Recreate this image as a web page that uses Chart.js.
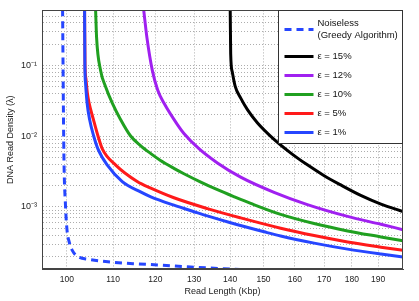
<!DOCTYPE html>
<html>
<head>
<meta charset="utf-8">
<script src="https://cdn.jsdelivr.net/npm/chart.js@4.4.0/dist/chart.umd.min.js"></script>
<style>
  html, body { margin: 0; padding: 0; background: #fff; }
  #wrap { width: 419px; height: 301px; }
</style>
</head>
<body>
<div id="wrap"><canvas id="chart" width="419" height="301"></canvas></div>
<script>
// read length (Kbp) / read density pairs
const noiselessLen = [99.12, 99.38, 99.73, 100.04, 100.41, 101.12, 102.44, 104.58, 109.4, 114.8, 120.5, 129.1, 138.2, 145.1];
const noiselessDens = [0.62, 5.96e-3, 9.97e-4, 4.63e-4, 3.34e-4, 2.44e-4, 1.97e-4, 1.82e-4, 1.67e-4, 1.58e-4, 1.52e-4, 1.42e-4, 1.34e-4, 1.29e-4];

const err15Len = [140.05, 140.19, 140.63, 141.50, 143.12, 145.11, 148.1, 153.3, 158.7, 164.2, 170.0, 175.9, 183.3, 191.1, 200];
const err15Dens = [0.62, 0.1453, 0.0818, 0.0507, 0.0345, 0.02376, 0.01554, 9.03e-3, 5.78e-3, 3.94e-3, 2.77e-3, 2.05e-3, 1.46e-3, 1.10e-3, 8.63e-4];

const err12Len = [117.15, 117.95, 119.27, 120.59, 122.16, 125.6, 127.3, 131.3, 136.4, 143.1, 153.3, 164.2, 178.4, 191.1, 200];
const err12Dens = [0.62, 0.2476, 0.0852, 0.0450, 0.0294, 0.01458, 0.01093, 6.67e-3, 4.195e-3, 2.64e-3, 1.609e-3, 1.080e-3, 7.36e-4, 5.70e-4, 4.78e-4];

const err10Len = [106.10, 106.32, 107.20, 108.31, 109.82, 111.7, 114.0, 116.4, 118.9, 121.3, 124.7, 127.3, 131.8, 136.4, 141.2, 146.1, 155.4, 166.5, 178.4, 191.1, 200];
const err10Dens = [0.62, 0.2476, 0.0852, 0.0502, 0.0294, 0.01727, 0.01016, 7.38e-3, 5.68e-3, 4.545e-3, 3.52e-3, 2.953e-3, 2.25e-3, 1.754e-3, 1.394e-3, 1.122e-3, 7.85e-4, 5.83e-4, 4.59e-4, 3.776e-4, 3.322e-4];

const err5Len = [103.72, 103.81, 104.00, 104.32, 104.69, 105.62, 106.61, 107.58, 110.6, 115.6, 118.9, 124.7, 133.6, 143.1, 155.4, 166.5, 178.4, 191.1, 200];
const err5Dens = [0.62, 0.1056, 0.0654, 0.0405, 0.0294, 0.01727, 0.01016, 6.63e-3, 3.90e-3, 2.29e-3, 1.846e-3, 1.350e-3, 9.50e-4, 7.02e-4, 5.02e-4, 3.95e-4, 3.208e-4, 2.708e-4, 2.44e-4];

const err1Len = [103.72, 103.78, 103.93, 104.26, 104.80, 105.67, 106.61, 108.70, 112.1, 116.4, 118.9, 124.7, 130.0, 133.6, 139.9, 150.2, 155.4, 166.5, 178.4, 191.1, 200];
const err1Dens = [0.62, 0.1056, 0.0557, 0.0294, 0.01727, 0.01016, 6.63e-3, 3.90e-3, 2.29e-3, 1.635e-3, 1.394e-3, 1.062e-3, 8.58e-4, 7.48e-4, 6.04e-4, 4.46e-4, 3.886e-4, 3.087e-4, 2.54e-4, 2.166e-4, 1.97e-4];

// axis ticks
const xTicks = [100, 110, 120, 130, 140, 150, 160, 170, 180, 190];
const yGrid = [2e-4, 3e-4, 4e-4, 5e-4, 6e-4, 7e-4, 8e-4, 9e-4,
  1e-3, 2e-3, 3e-3, 4e-3, 5e-3, 6e-3, 7e-3, 8e-3, 9e-3,
  1e-2, 2e-2, 3e-2, 4e-2, 5e-2, 6e-2, 7e-2, 8e-2, 9e-2,
  0.1, 0.2, 0.3, 0.4, 0.5, 0.6];
const yMajor = [1e-3, 1e-2, 1e-1];
const yMajorLabels = ['10⁻³', '10⁻²', '10⁻¹'];

const BLUE = '#2646ff';
const FONT = "'Liberation Sans', Arial, sans-serif";

function pts(xs, ys) {
  return xs.map((x, i) => ({ x: x, y: ys[i] }));
}

const datasets = [
  { label: ['Noiseless', '(Greedy Algorithm)'], data: pts(noiselessLen, noiselessDens), borderColor: BLUE, borderDash: [7, 5], order: 0 },
  { label: 'ε = 15%', data: pts(err15Len, err15Dens), borderColor: '#000000', order: 5 },
  { label: 'ε = 12%', data: pts(err12Len, err12Dens), borderColor: '#a020f0', order: 4 },
  { label: 'ε = 10%', data: pts(err10Len, err10Dens), borderColor: '#20a020', order: 3 },
  { label: 'ε = 5%', data: pts(err5Len, err5Dens), borderColor: '#ff1a1a', order: 2 },
  { label: 'ε = 1%', data: pts(err1Len, err1Dens), borderColor: BLUE, order: 1 }
];

// box around the axes and the boxed legend in the top right corner
const frameLegend = {
  id: 'frameLegend',
  afterDraw(chart) {
    const { ctx, chartArea: a } = chart;
    ctx.save();
    ctx.strokeStyle = '#444';
    ctx.lineWidth = 1;
    ctx.strokeRect(Math.round(a.left) + 0.5, Math.round(a.top) + 0.5,
      Math.round(a.right - a.left) - 1, Math.round(a.bottom - a.top) - 1);

    const lw = 124, lh = 133;
    const lx = Math.round(a.right) - lw - 0.5, ly = Math.round(a.top) + 0.5;
    ctx.fillStyle = '#fff';
    ctx.fillRect(lx, ly, lw, lh);
    ctx.strokeStyle = '#333';
    ctx.strokeRect(lx, ly, lw, lh);

    const rows = [19, 46, 65, 84, 103, 122];
    ctx.font = '9.5px ' + FONT;
    ctx.fillStyle = '#111';
    ctx.textBaseline = 'middle';
    chart.data.datasets.forEach((ds, i) => {
      const y = ly + rows[i];
      ctx.beginPath();
      ctx.strokeStyle = ds.borderColor;
      ctx.lineWidth = 3;
      ctx.setLineDash(ds.borderDash || []);
      ctx.moveTo(lx + 6, y);
      ctx.lineTo(lx + 35, y);
      ctx.stroke();
      ctx.setLineDash([]);
      if (Array.isArray(ds.label)) {
        ctx.fillText(ds.label[0], lx + 39, y - 6);
        ctx.fillText(ds.label[1], lx + 39, y + 6);
      } else {
        ctx.fillText(ds.label, lx + 39, y);
      }
    });
    ctx.restore();
  }
};

new Chart(document.getElementById('chart'), {
  type: 'line',
  data: { datasets: datasets },
  options: {
    responsive: false,
    animation: false,
    events: [],
    layout: { padding: { left: 0, right: 16, top: 5, bottom: 0 } },
    elements: {
      point: { radius: 0 },
      line: { borderWidth: 3, cubicInterpolationMode: 'monotone', borderCapStyle: 'butt' }
    },
    plugins: {
      legend: { display: false },
      tooltip: { enabled: false }
    },
    scales: {
      x: {
        type: 'logarithmic',
        min: 95,
        max: 200,
        afterBuildTicks: (s) => { s.ticks = xTicks.map(v => ({ value: v })); },
        afterFit: (s) => { s.height = 32; },
        grid: { color: 'rgba(0,0,0,0.32)', lineWidth: 1, drawTicks: false },
        border: { color: '#444', dash: [1, 2] },
        ticks: {
          autoSkip: false,
          maxRotation: 0,
          padding: 6,
          color: '#222',
          font: { family: FONT, size: 8.5 },
          callback: (v) => String(v)
        },
        title: {
          display: true,
          text: 'Read Length (Kbp)',
          color: '#222',
          font: { family: FONT, size: 9 },
          padding: { top: 0, bottom: 4 }
        }
      },
      y: {
        type: 'logarithmic',
        min: 1.33e-4,
        max: 0.6,
        afterBuildTicks: (s) => { s.ticks = yGrid.map(v => ({ value: v })); },
        afterFit: (s) => { s.width = 42; },
        grid: { color: 'rgba(0,0,0,0.32)', lineWidth: 1, drawTicks: false },
        border: { color: '#444', dash: [1, 2] },
        ticks: {
          autoSkip: false,
          padding: 5,
          color: '#222',
          font: { family: FONT, size: 9 },
          callback: (v) => {
            const i = yMajor.findIndex(m => Math.abs(Math.log10(m) - Math.log10(v)) < 1e-6);
            return i >= 0 ? yMajorLabels[i] : '';
          }
        },
        title: {
          display: true,
          text: 'DNA Read Density (λ)',
          color: '#222',
          font: { family: FONT, size: 9 },
          padding: { top: 5, bottom: 0 }
        }
      }
    }
  },
  plugins: [frameLegend]
});
</script>
</body>
</html>
